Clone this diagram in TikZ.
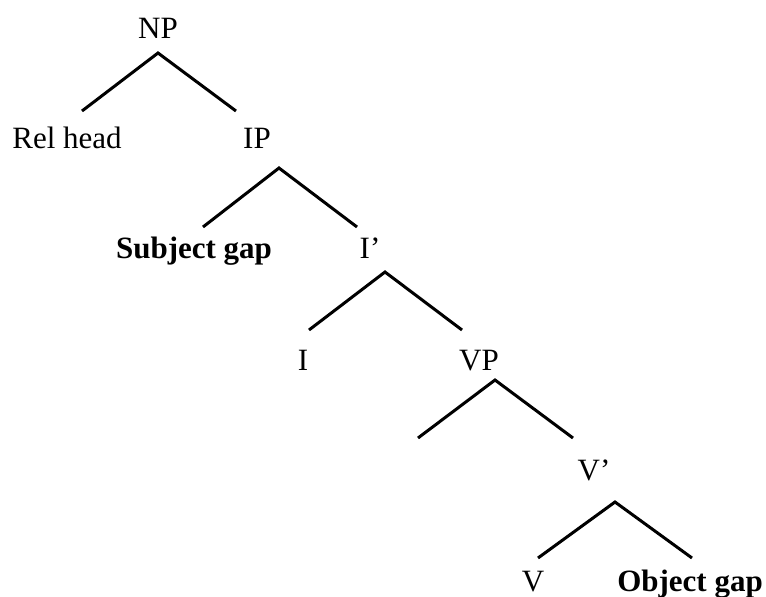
\documentclass[tikz,border=0pt]{standalone}
\usepackage{fontspec}
\setmainfont{Liberation Serif}
\begin{document}
\begin{tikzpicture}[x=1pt,y=-1pt,
  lbl/.style={inner sep=0pt,anchor=base,font=\fontsize{31}{36}\selectfont},
  blbl/.style={lbl,font=\fontsize{31}{36}\selectfont\bfseries},
  branch/.style={line width=3pt,line cap=butt,line join=miter}]
\useasboundingbox (0,0) rectangle (766,597);
% labels
\node[lbl]  (np)  at (158,38)  {NP};
\node[lbl]  (rel) at (67,148)  {Rel head};
\node[lbl]  (ip)  at (257,148) {IP};
\node[blbl] (sg)  at (194,258) {Subject gap};
\node[lbl]  (ib)  at (370,258) {I’};
\node[lbl]  (i)   at (303,370) {I};
\node[lbl]  (vp)  at (479,370) {VP};
\node[inner sep=0pt] (empty) at (418,438) {};
\node[lbl]  (vb)  at (594,480) {V’};
\node[lbl]  (v)   at (533,591) {V};
\node[blbl] (og)  at (690,591) {Object gap};
% branches
\draw[branch] ([shift={(-76,73)}]np.base) -- ([shift={(0,15)}]np.base) -- ([shift={(78,73)}]np.base);
\draw[branch] ([shift={(-54,79)}]ip.base) -- ([shift={(22,20)}]ip.base) -- ([shift={(100,79)}]ip.base);
\draw[branch] ([shift={(-61,72)}]ib.base) -- ([shift={(15,14)}]ib.base) -- ([shift={(92,72)}]ib.base);
\draw[branch] (empty.center) -- ([shift={(16,10)}]vp.base) -- ([shift={(94,68)}]vp.base);
\draw[branch] ([shift={(-56,78)}]vb.base) -- ([shift={(21,22)}]vb.base) -- ([shift={(98,78)}]vb.base);
\end{tikzpicture}
\end{document}
